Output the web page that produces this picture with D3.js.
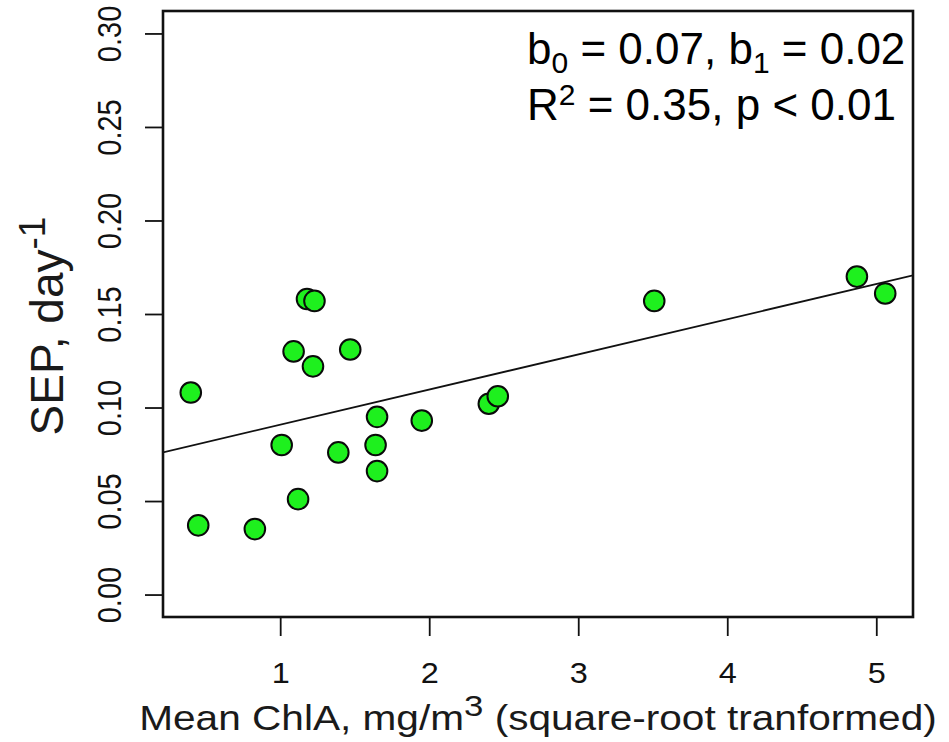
<!DOCTYPE html>
<html>
<head>
<meta charset="utf-8">
<script src="https://cdn.jsdelivr.net/npm/d3@7"></script>
<style>
  body { margin: 0; background: #fff; }
  svg text { font-family: "Liberation Sans", Arial, sans-serif; }
</style>
</head>
<body>
<div id="chart"></div>
<script>
// values
var chlA = [0.40, 0.45, 0.83, 1.01, 1.09, 1.12, 1.18, 1.23, 1.22, 1.39,
            1.47, 1.64, 1.65, 1.65, 1.95, 2.40, 2.46, 3.51, 4.87, 5.06];
var sep  = [0.108, 0.037, 0.035, 0.080, 0.130, 0.051, 0.158, 0.157, 0.122, 0.076,
            0.131, 0.080, 0.095, 0.066, 0.093, 0.102, 0.106, 0.157, 0.170, 0.161];
var xTicks = [1, 2, 3, 4, 5];
var yTicks = [0.00, 0.05, 0.10, 0.15, 0.20, 0.25, 0.30];
var fit = { b0: 0.0720, b1: 0.0188 };

var width = 949, height = 742;
var box = { left: 163, top: 11, right: 913, bottom: 617 };
var stretch = 1.12; // the source picture is a bit wider than tall

var svg = d3.select('#chart')
  .append('svg')
  .attr('width', width)
  .attr('height', height);

svg.append('rect')
  .attr('width', width)
  .attr('height', height)
  .attr('fill', '#fff');

// R style 4% padding on x, ylim 0..0.3 padded too
var xExt = d3.extent(chlA);
var xPad = (xExt[1] - xExt[0]) * 0.04;
var x = d3.scaleLinear()
  .domain([xExt[0] - xPad, xExt[1] + xPad])
  .range([box.left, box.right]);

var y = d3.scaleLinear()
  .domain([0 - 0.3 * 0.04, 0.3 + 0.3 * 0.04])
  .range([box.bottom, box.top]);

// regression line, clipped to the plot box
svg.append('clipPath')
  .attr('id', 'plotclip')
  .append('rect')
  .attr('x', box.left)
  .attr('y', box.top)
  .attr('width', box.right - box.left)
  .attr('height', box.bottom - box.top);

var xd = x.domain();
svg.append('line')
  .attr('clip-path', 'url(#plotclip)')
  .attr('x1', x(xd[0]))
  .attr('y1', y(fit.b0 + fit.b1 * xd[0]))
  .attr('x2', x(xd[1]))
  .attr('y2', y(fit.b0 + fit.b1 * xd[1]))
  .attr('stroke', '#111')
  .attr('stroke-width', 1.8);

svg.selectAll('.pt')
  .data(d3.zip(chlA, sep))
  .enter()
  .append('circle')
  .attr('class', 'pt')
  .attr('cx', function (d) { return x(d[0]); })
  .attr('cy', function (d) { return y(d[1]); })
  .attr('r', 10.3)
  .attr('fill', '#1ef01e')
  .attr('stroke', '#0a0a0a')
  .attr('stroke-width', 2);

// axes
var xAxis = svg.append('g')
  .attr('transform', 'translate(0,' + box.bottom + ')')
  .call(d3.axisBottom(x).tickValues(xTicks).tickSize(19).tickSizeOuter(0).tickFormat(d3.format('d')));

var yAxis = svg.append('g')
  .attr('transform', 'translate(' + box.left + ',0)')
  .call(d3.axisLeft(y).tickValues(yTicks).tickSize(18).tickSizeOuter(0).tickFormat(d3.format('.2f')));

[xAxis, yAxis].forEach(function (g) {
  g.attr('font-size', 29).attr('font-family', '"Liberation Sans", Arial, sans-serif');
  g.select('.domain').remove();
  g.selectAll('.tick line').attr('stroke', '#111').attr('stroke-width', 1.8);
  g.selectAll('.tick text')
    .attr('x', null).attr('y', null).attr('dy', null)
    .attr('fill', '#111');
});

xAxis.selectAll('.tick text')
  .attr('text-anchor', 'middle')
  .attr('transform', 'translate(0,66) scale(' + stretch + ',1)');

yAxis.selectAll('.tick text')
  .attr('text-anchor', 'middle')
  .attr('transform', 'translate(-42,0) rotate(-90) scale(1,' + stretch + ')');

svg.append('rect')
  .attr('x', box.left)
  .attr('y', box.top)
  .attr('width', box.right - box.left)
  .attr('height', box.bottom - box.top)
  .attr('fill', 'none')
  .attr('stroke', '#111')
  .attr('stroke-width', 2.6);

// axis titles
var xTitle = svg.append('text')
  .attr('text-anchor', 'middle')
  .attr('transform', 'translate(' + (box.left + box.right) / 2 + ',730) scale(1.16,1)')
  .attr('fill', '#1a1a1a')
  .style('font-size', '35px');
xTitle.append('tspan').text('Mean ChlA, mg/m');
xTitle.append('tspan').attr('dy', -14).style('font-size', '30px').text('3');
xTitle.append('tspan').attr('dy', 14).text(' (square-root tranformed)');

var yTitle = svg.append('text')
  .attr('text-anchor', 'middle')
  .attr('transform', 'translate(63,326) rotate(-90)')
  .attr('fill', '#1a1a1a')
  .style('font-size', '46px');
yTitle.append('tspan').text('SEP, day');
yTitle.append('tspan').attr('dy', -18).style('font-size', '37px').text('-1');

// fit annotation
var note = svg.append('g')
  .style('font-family', 'Lato, "Open Sans", sans-serif')
  .style('font-size', '44px')
  .attr('fill', '#000');

var l1 = note.append('text').attr('x', 527).attr('y', 64);
l1.append('tspan').text('b');
l1.append('tspan').attr('dy', 9).style('font-size', '30px').text('0');
l1.append('tspan').attr('dy', -9).text(' = 0.07, b');
l1.append('tspan').attr('dy', 9).style('font-size', '30px').text('1');
l1.append('tspan').attr('dy', -9).text(' = 0.02');

var l2 = note.append('text').attr('x', 527).attr('y', 120);
l2.append('tspan').text('R');
l2.append('tspan').attr('dy', -15).style('font-size', '30px').text('2');
l2.append('tspan').attr('dy', 15).text(' = 0.35, p < 0.01');
</script>
</body>
</html>
